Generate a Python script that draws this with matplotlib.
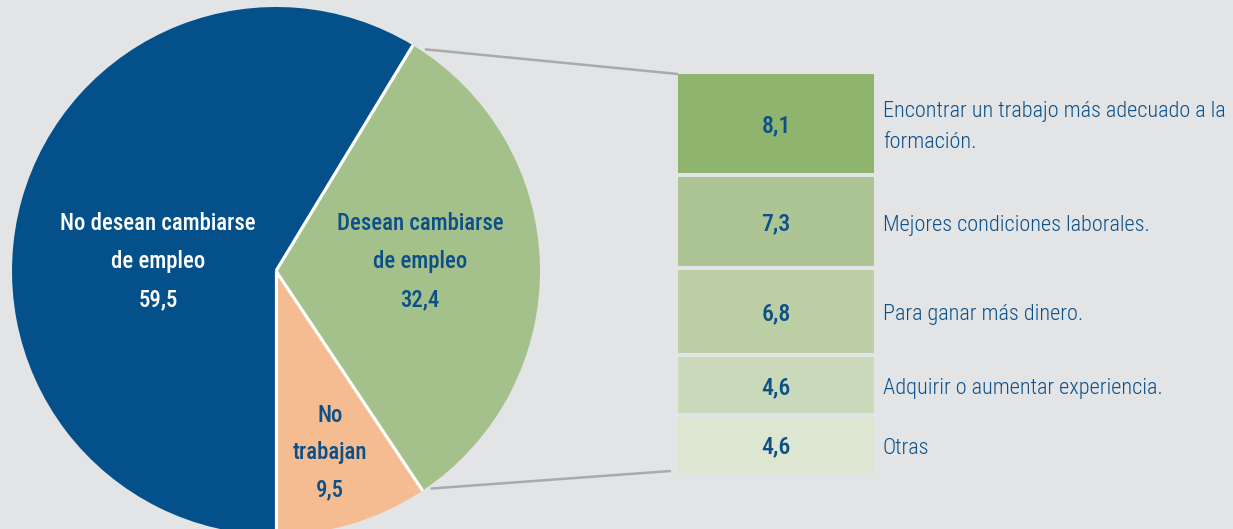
import matplotlib
matplotlib.use("Agg")
import matplotlib.pyplot as plt
from matplotlib import font_manager
import numpy as np

# pie data
pie_labels = [["No desean cambiarse", "de empleo"],
              ["Desean cambiarse", "de empleo"],
              ["No", "trabajan"]]
pie_values = [59.5, 32.4, 9.5]
pie_texts = ["59,5", "32,4", "9,5"]

# breakdown of "Desean cambiarse de empleo"
reasons = [
    ["Encontrar un trabajo más adecuado a la", "formación."],
    ["Mejores condiciones laborales."],
    ["Para ganar más dinero."],
    ["Adquirir o aumentar experiencia."],
    ["Otras"],
]
reason_values = [8.1, 7.3, 6.8, 4.6, 4.6]
reason_texts = ["8,1", "7,3", "6,8", "4,6", "4,6"]

BG = "#e3e4e6"
TXT = "#0d5088"
pie_colors = ["#03508a", "#a5c18b", "#f5bc92"]
box_colors = ["#8fb46e", "#adc594", "#bccfa4", "#cbd9bb", "#dce6d0"]


def pick_font():
    fl = font_manager.fontManager.ttflist
    names = {f.name for f in fl}
    for n in ["Roboto Condensed", "Liberation Sans Narrow", "Open Sans Condensed",
              "Noto Sans Condensed", "Arial Narrow"]:
        if n in names:
            return dict(family=n)
    for f in fl:
        if f.name == "DejaVu Sans" and "ondensed" in str(f.stretch):
            return dict(family="DejaVu Sans", stretch="condensed")
    return dict(family="DejaVu Sans")


FONT = pick_font()

W, H = 1233, 529
fig = plt.figure(figsize=(W / 100, H / 100), dpi=100, facecolor=BG)
ax = fig.add_axes([0, 0, 1, 1])
ax.set_facecolor(BG)
renderer = fig.canvas.get_renderer()


def fit_size(s, target_px, **kw):
    t = fig.text(0, 0, s, fontsize=10, **FONT, **kw)
    w = t.get_window_extent(renderer).width
    t.remove()
    return 10 * target_px / w


size_pie = fit_size("No desean cambiarse", 195, weight="medium")
size_lab = fit_size("Encontrar un trabajo más adecuado a la", 344, weight="light")


def py(y_px):
    # pixel row from top -> data y
    return H - y_px


# pie, center/radius in pixel units
cx, cy, r = 276, py(271), 264
wedges, _ = ax.pie(pie_values, colors=pie_colors, startangle=-90,
                   counterclock=False, center=(cx, cy), radius=r,
                   wedgeprops=dict(linewidth=0))
for w in wedges:
    a = np.deg2rad(w.theta1)
    ax.plot([cx, cx + r * np.cos(a)], [cy, cy + r * np.sin(a)],
            color="white", linewidth=2.3, solid_capstyle="butt")
ax.set_xlim(0, W)
ax.set_ylim(0, H)
ax.set_aspect("equal")
ax.axis("off")

# pie labels: (x center, first baseline px, line step px)
pie_pos = [(158, 230, 38), (420, 230, 38), (330, 422, 37)]
pie_fc = ["white", TXT, TXT]
for lines, val, (x, y0, step), fc in zip(pie_labels, pie_texts, pie_pos, pie_fc):
    for i, s in enumerate(lines + [val]):
        ax.text(x, py(y0 + i * step), s, color=fc, ha="center", va="baseline",
                fontsize=size_pie, weight="medium", **FONT)

# stacked boxes
unit = 12.26
gap = 3.5
top = py(74)
bx, bw = 678, 196
y = top
centers = []
for val, col, t in zip(reason_values, box_colors, reason_texts):
    h = val * unit
    ax.bar(bx + bw / 2, h, width=bw, bottom=y - h, color=col, linewidth=0)
    c = y - h / 2
    centers.append(c)
    ax.text(bx + bw / 2, c - 9, t, color=TXT, ha="center", va="baseline",
            fontsize=size_pie * 1.05, weight="medium", **FONT)
    y = y - h - gap
bottom = y + gap

for c, lines in zip(centers, reasons):
    n = len(lines)
    for i, s in enumerate(lines):
        yb = c - 9 + (n - 1) * 15.5 - i * 31
        ax.text(883, yb, s, color=TXT, ha="left", va="baseline",
                fontsize=size_lab, weight="light", **FONT)

# connector lines from the green wedge edges to the boxes
g = wedges[1]
a1, a2 = np.deg2rad(g.theta1), np.deg2rad(g.theta2)
for a, yb, xb, dx, dy in [(a2, top, bx, 12, -4), (a1, bottom + 2, bx - 7, 8, 2)]:
    x0 = cx + r * np.cos(a) + dx
    y0 = cy + r * np.sin(a) + dy
    ax.plot([x0, xb], [y0, yb], color="#a9aaac", linewidth=1.8,
            solid_capstyle="butt")

fig.savefig("out.png", dpi=100, facecolor=BG)
